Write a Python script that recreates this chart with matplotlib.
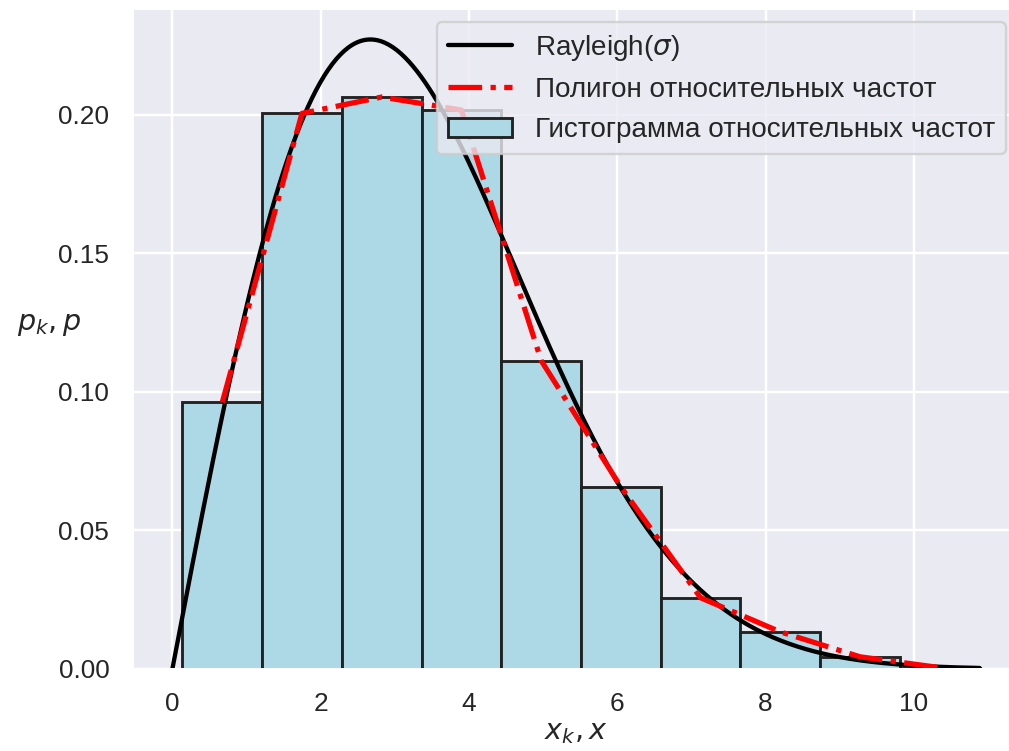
import numpy as np
import matplotlib
matplotlib.use("Agg")
import matplotlib.pyplot as plt
import seaborn as sns

# histogram of relative frequencies (density)
bin_edges = [0.135, 1.21, 2.285, 3.36, 4.435, 5.51, 6.585, 7.66, 8.735, 9.81, 10.885]
rel_freq = [0.0962, 0.2005, 0.2064, 0.2017, 0.1113, 0.0657, 0.0257, 0.0134, 0.0044, 0.0005]

# fitted Rayleigh parameter
sigma = 2.67
x_max = 10.885

sns.set_theme()
plt.rcParams["font.family"] = ["Liberation Sans", "DejaVu Sans"]

dpi = 172
fig = plt.figure(figsize=(1009 / dpi, 751 / dpi), dpi=dpi)
ax = fig.add_axes([132 / 1009, 82 / 751, 888 / 1009, 661 / 751])

edges = np.array(bin_edges)
widths = np.diff(edges)
centers = edges[:-1] + widths / 2

x = np.linspace(0, x_max, 400)
pdf = x / sigma**2 * np.exp(-x**2 / (2 * sigma**2))

ax.plot(x, pdf, color="black", lw=1.8, label=r"Rayleigh($\sigma$)")
ax.plot(centers, rel_freq, color="red", ls="-.", lw=2.2,
        label="Полигон относительных частот")
ax.bar(edges[:-1], rel_freq, width=widths, align="edge", color="lightblue",
       edgecolor="#222222", linewidth=1.2,
       label="Гистограмма относительных частот")

ax.set_xlabel("$x_k, x$", labelpad=1)
ax.set_ylabel("$p_k, p$", rotation=0)
ax.legend(loc="upper right", fontsize=11.7, handlelength=2.3)

fig.savefig("out.png", dpi=dpi)
